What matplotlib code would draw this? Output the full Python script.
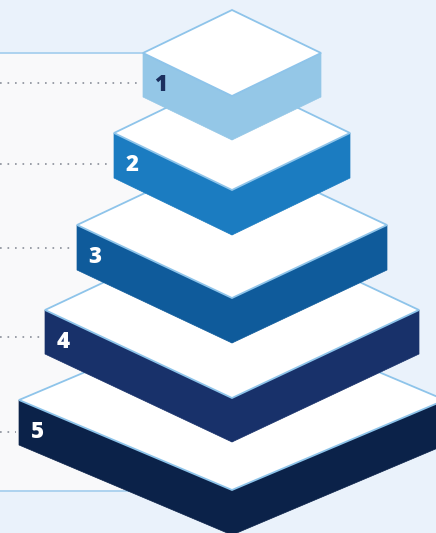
import matplotlib.pyplot as plt
from matplotlib.patches import Polygon, Rectangle

# level labels and face colours, top level first
levels = ["1", "2", "3", "4", "5"]
face_colors = ["#94C7E7", "#1B7CC1", "#0F5B9B", "#18316A", "#0B2249"]
label_colors = ["#1B2F5E", "white", "white", "white", "white"]

# slab geometry in pixels
cx = 232
half_w = [89, 118, 155, 187, 213]
depth = [43, 57, 73, 88, 90]
left_y = [53, 133, 225, 310, 400]
thick = [44, 45, 45, 44, 45]
dot_y = [83, 164, 248, 337, 432]

W, H = 436, 533
fig = plt.figure(figsize=(W / 100, H / 100), dpi=100)
ax = fig.add_axes([0, 0, 1, 1])
ax.set_xlim(0, W)
ax.set_ylim(H, 0)
ax.axis("off")
fig.patch.set_facecolor("#EAF2FB")

# pale panel behind the left half
ax.add_patch(Rectangle((0, 53), cx, 438, facecolor="#F9F9FA", edgecolor="none", zorder=0))
ax.plot([0, cx], [53, 53], color="#A8D0EE", lw=1.3, zorder=1)
ax.plot([0, cx], [491, 491], color="#A8D0EE", lw=1.3, zorder=1)

edge = "#8EC4EA"
for i in range(len(levels) - 1, -1, -1):
    L = cx - half_w[i]
    R = cx + half_w[i]
    yl = left_y[i]
    yf = yl + depth[i]
    t = thick[i]
    z = 10 + (len(levels) - i) * 3

    left_face = Polygon([(L, yl), (cx, yf), (cx, yf + t), (L, yl + t)],
                        closed=True, facecolor=face_colors[i], edgecolor=face_colors[i], lw=0.5, zorder=z)
    right_face = Polygon([(cx, yf), (R, yl), (R, yl + t), (cx, yf + t)],
                         closed=True, facecolor=face_colors[i], edgecolor=face_colors[i], lw=0.5, zorder=z)
    top = Polygon([(L, yl), (cx, yl - depth[i]), (R, yl), (cx, yf)],
                  closed=True, facecolor="white", edgecolor=edge, lw=1.3, zorder=z + 1)
    ax.add_patch(left_face)
    ax.add_patch(right_face)
    ax.add_patch(top)

    ax.plot([0, L - 3], [dot_y[i], dot_y[i]], color="#8A8F99",
            linestyle=(0, (1, 3.5)), lw=1.2, zorder=2)
    ax.text(L + 18, yl + 32, levels[i], color=label_colors[i], fontsize=16,
            fontweight="heavy", family="Open Sans", ha="center", va="center", zorder=z + 2)

fig.savefig("out.png", dpi=100, facecolor=fig.get_facecolor())
